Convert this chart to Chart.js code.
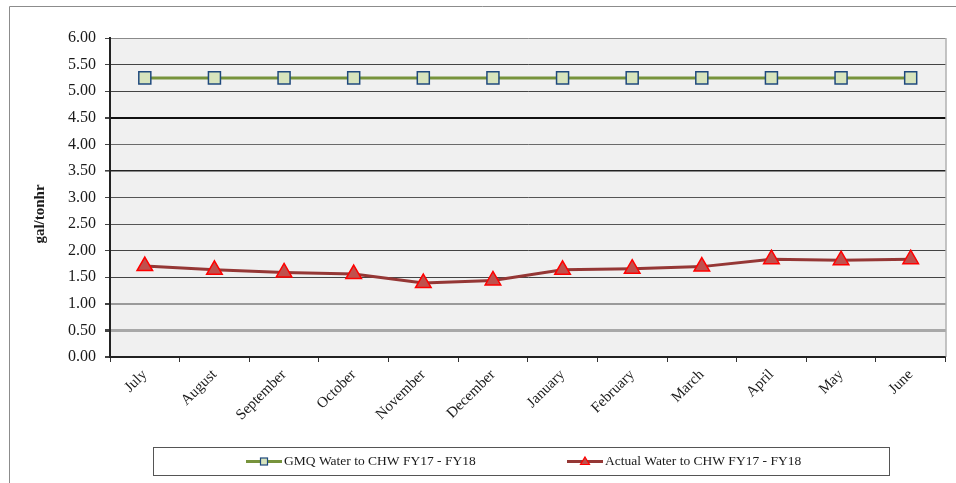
<!DOCTYPE html>
<html>
<head>
<meta charset="utf-8">
<script src="https://cdn.jsdelivr.net/npm/chart.js@4/dist/chart.umd.min.js"></script>
<style>
  html, body { margin: 0; padding: 0; background: #ffffff; }
  #wrap { position: relative; width: 956px; height: 483px; }
  canvas { display: block; }
</style>
</head>
<body>
<div id="wrap"><canvas id="chart" width="956" height="483"></canvas></div>
<script>
// Fiscal-year months
const months = ['July', 'August', 'September', 'October', 'November', 'December',
                'January', 'February', 'March', 'April', 'May', 'June'];

// Target water use per ton-hour (GMQ)
const gmqWater = [5.25, 5.25, 5.25, 5.25, 5.25, 5.25, 5.25, 5.25, 5.25, 5.25, 5.25, 5.25];

// Measured water use per ton-hour
const actualWater = [1.71, 1.64, 1.59, 1.56, 1.39, 1.44, 1.64, 1.66, 1.70, 1.84, 1.82, 1.84];

const seriesNames = ['GMQ Water to CHW FY17 - FY18', 'Actual Water to CHW FY17 - FY18'];
const axisTitle = 'gal/tonhr';

const FONT = "'Liberation Serif', 'Times New Roman', serif";

// Horizontal rule look for each value on the vertical axis
function gridStyle(v) {
  const key = Math.round(v * 100);
  switch (key) {
    case 600: return { c: '#8a8a8a', w: 1 };
    case 450: return { c: '#111111', w: 2 };
    case 350: return { c: '#222222', w: 1.6 };
    case 400: return { c: '#6a6a6a', w: 1 };
    case 300: return { c: '#555555', w: 1 };
    case 250: return { c: '#555555', w: 1 };
    case 100: return { c: '#9a9a9a', w: 2 };
    case 50:  return { c: '#a8a8a8', w: 3 };
    case 0:   return { c: '#222222', w: 2 };
    default:  return { c: '#444444', w: 1 };
  }
}

const framePlugin = {
  id: 'frame',
  beforeDraw(chart) {
    const { ctx, chartArea: a } = chart;
    ctx.save();
    ctx.fillStyle = '#ffffff';
    ctx.fillRect(0, 0, chart.width, chart.height);
    // outer frame (top and left edges)
    ctx.strokeStyle = '#8c8c8c';
    ctx.lineWidth = 1;
    ctx.beginPath();
    ctx.moveTo(9.5, chart.height);
    ctx.lineTo(9.5, 6.5);
    ctx.lineTo(chart.width, 6.5);
    ctx.stroke();
    // plot background
    ctx.fillStyle = '#f0f0f0';
    ctx.fillRect(a.left, a.top, a.right - a.left, a.bottom - a.top);
    ctx.restore();
  },
  afterDatasetsDraw(chart) {
    const { ctx, chartArea: a } = chart;
    ctx.save();
    // right edge of the plot area
    ctx.strokeStyle = '#8a8a8a';
    ctx.lineWidth = 1;
    ctx.beginPath();
    ctx.moveTo(a.right + 0.5, a.top);
    ctx.lineTo(a.right + 0.5, a.bottom);
    ctx.stroke();
    ctx.restore();
  },
  afterDraw(chart) {
    const { ctx } = chart;
    ctx.save();
    // vertical axis title
    ctx.translate(40, 214);
    ctx.rotate(-Math.PI / 2);
    ctx.font = 'bold 15px ' + FONT;
    ctx.fillStyle = '#1a1a1a';
    ctx.textAlign = 'center';
    ctx.textBaseline = 'middle';
    ctx.fillText(axisTitle, 0, 0);
    ctx.restore();

    // legend box
    ctx.save();
    ctx.strokeStyle = '#555555';
    ctx.lineWidth = 1;
    ctx.strokeRect(153.5, 447.5, 736, 28);
    const ly = 461.5;
    const ds = chart.data.datasets;
    const items = [
      { x0: 246, x1: 282, tx: 284, d: ds[0] },
      { x0: 567, x1: 603, tx: 605, d: ds[1] }
    ];
    ctx.font = '13.5px ' + FONT;
    ctx.textBaseline = 'middle';
    ctx.textAlign = 'left';
    items.forEach(it => {
      ctx.strokeStyle = it.d.borderColor;
      ctx.lineWidth = 3;
      ctx.beginPath();
      ctx.moveTo(it.x0, ly);
      ctx.lineTo(it.x1, ly);
      ctx.stroke();
      const cx = (it.x0 + it.x1) / 2;
      ctx.fillStyle = it.d.pointBackgroundColor;
      ctx.strokeStyle = it.d.pointBorderColor;
      ctx.lineWidth = 1.2;
      if (it.d.pointStyle === 'rect') {
        ctx.fillRect(cx - 3.5, ly - 3.5, 7, 7);
        ctx.strokeRect(cx - 3.5, ly - 3.5, 7, 7);
      } else {
        ctx.beginPath();
        ctx.moveTo(cx, ly - 4.5);
        ctx.lineTo(cx + 4.5, ly + 3);
        ctx.lineTo(cx - 4.5, ly + 3);
        ctx.closePath();
        ctx.fill();
        ctx.stroke();
      }
      ctx.fillStyle = '#1a1a1a';
      ctx.fillText(it.d.label, it.tx, ly);
    });
    ctx.restore();
  }
};

new Chart(document.getElementById('chart'), {
  type: 'line',
  data: {
    labels: months,
    datasets: [
      {
        label: seriesNames[0],
        data: gmqWater,
        borderColor: '#77933c',
        borderWidth: 3,
        pointStyle: 'rect',
        pointRadius: 8.5,
        pointHoverRadius: 8.5,
        pointBackgroundColor: '#d7e4bd',
        pointBorderColor: '#1f497d',
        pointBorderWidth: 1.5,
        tension: 0
      },
      {
        label: seriesNames[1],
        data: actualWater,
        borderColor: '#953735',
        borderWidth: 3,
        pointStyle: 'triangle',
        pointRadius: 9,
        pointHoverRadius: 9,
        pointBackgroundColor: '#c0504d',
        pointBorderColor: '#ff0000',
        pointBorderWidth: 1.5,
        tension: 0
      }
    ]
  },
  options: {
    responsive: false,
    animation: false,
    devicePixelRatio: 1,
    layout: { padding: { top: 38, right: 9, left: 0, bottom: 0 } },
    plugins: {
      legend: { display: false },
      tooltip: { enabled: false },
      title: { display: false }
    },
    scales: {
      x: {
        type: 'category',
        offset: true,
        afterFit(scale) { scale.height = 126; },
        border: { color: '#222222', width: 2 },
        grid: {
          offset: true,
          drawOnChartArea: false,
          drawTicks: true,
          tickLength: 5,
          tickColor: '#333333'
        },
        ticks: {
          minRotation: 45,
          maxRotation: 45,
          autoSkip: false,
          padding: 4,
          color: '#1a1a1a',
          font: { family: FONT, size: 15 }
        }
      },
      y: {
        min: 0,
        max: 6,
        afterFit(scale) { scale.width = 110; },
        border: { color: '#222222', width: 2 },
        grid: {
          drawTicks: true,
          tickLength: 5,
          tickColor: '#444444',
          color: ctx => gridStyle(ctx.tick.value).c,
          lineWidth: ctx => gridStyle(ctx.tick.value).w
        },
        ticks: {
          stepSize: 0.5,
          padding: 9,
          color: '#1a1a1a',
          font: { family: FONT, size: 16 },
          callback: v => Number(v).toFixed(2)
        }
      }
    }
  },
  plugins: [framePlugin]
});
</script>
</body>
</html>
